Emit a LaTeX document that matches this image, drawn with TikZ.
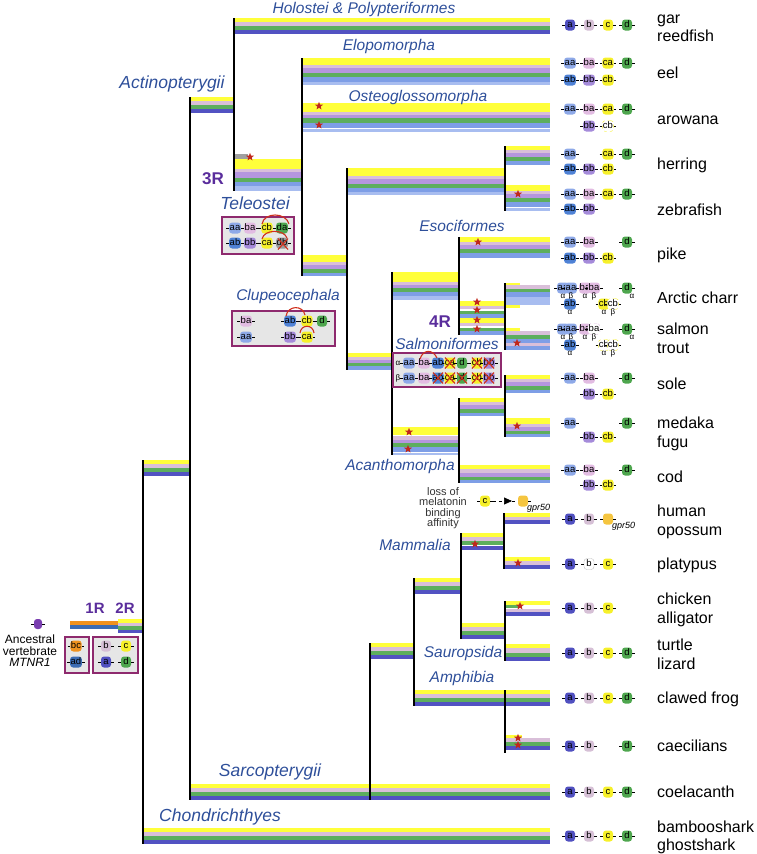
\documentclass[tikz,border=0pt]{standalone}
\usepackage{fontspec}
\setmainfont{Liberation Sans}
\usetikzlibrary{shapes.geometric,arrows.meta}
\definecolor{cY}{HTML}{FFFF3A}
\definecolor{cP}{HTML}{D9BFD9}
\definecolor{cL}{HTML}{B596DE}
\definecolor{cG}{HTML}{5DAE5D}
\definecolor{cB}{HTML}{7E9EE6}
\definecolor{cBB}{HTML}{A8BDF0}
\definecolor{cD}{HTML}{5252C2}
\definecolor{cO}{HTML}{F0921E}
\definecolor{cS}{HTML}{3B6CB4}
\definecolor{cGr}{HTML}{A0A0A0}
\definecolor{cStar}{HTML}{C0281C}
\definecolor{cLab}{HTML}{2E4F9A}
\definecolor{cRR}{HTML}{5A2D9C}
\definecolor{cBox}{HTML}{8E2A6E}
\definecolor{cBoxF}{HTML}{E6E6E6}
\definecolor{ga}{HTML}{5050C0}
\definecolor{gb}{HTML}{D6C0D6}
\definecolor{gc}{HTML}{F6F02A}
\definecolor{gd}{HTML}{4EA64E}
\definecolor{gaa}{HTML}{8EA9E8}
\definecolor{gab}{HTML}{4F82D6}
\definecolor{gba}{HTML}{E2BCE2}
\definecolor{gbb}{HTML}{A58BDA}
\definecolor{gdb}{HTML}{9A9A9A}
\definecolor{gpr}{HTML}{F5C540}
\definecolor{anc}{HTML}{7A3FB0}
\definecolor{redx}{HTML}{D0301C}
\newcounter{gc}
\newcounter{sc}
\newcounter{kc}
\newcommand\sbar[4]{%
  \xdef\sbY{#3}%
  \foreach \c/\h in {#4}{%
    \fill[\c] (#1,\sbY) rectangle (#2,\sbY+\h);
    \pgfmathparse{\sbY+\h}\xdef\sbY{\pgfmathresult}%
  }%
}
\newcommand\gn[5][]{%
  \stepcounter{gc}\edef\gname{g\thegc}%
  \node[gene,fill=#5,#1] (\gname) at (#2,#3) {#4};
  \draw[gline] ([xshift=-2.6pt]\gname.west) -- (\gname.west) (\gname.east) -- ([xshift=2.6pt]\gname.east);
}
\newcommand\st[2]{\stepcounter{sc}\node[stp] (st\thesc) at (#1,#2) {};}
\newcommand\gk[3]{\stepcounter{kc}\node[gkl] (k\thekc) at (#1,#2) {#3};}
\newcommand\rx[2]{\draw[redl] (#1-5,#2-5.5) -- (#1+5,#2+5.5) (#1-5,#2+5.5) -- (#1+5,#2-5.5);}
\begin{document}
\begin{tikzpicture}[x=1pt,y=-1pt,
  vl/.style={line width=1.3pt,black},
  gene/.style={rounded corners=3pt,minimum width=10pt,minimum height=11pt,inner sep=0.6pt,
     font=\fontsize{9.5}{9.5}\selectfont,text height=6.8pt,text depth=1.8pt},
  gline/.style={line width=0.7pt,black},
  stp/.style={star,star points=5,star point ratio=2.4,fill=cStar,draw=none,minimum size=8.5pt,inner sep=0pt},
  gkl/.style={font=\fontsize{8}{8}\selectfont,inner sep=0pt},
  redl/.style={line width=1.1pt,redx},
  sp/.style={anchor=base west,font=\fontsize{16}{18}\selectfont,inner sep=0pt},
  clade/.style={anchor=base,font=\fontsize{15.5}{18}\selectfont\itshape,text=cLab,inner sep=0pt},
  bigclade/.style={anchor=base,font=\fontsize{17.5}{20}\selectfont\itshape,text=cLab,inner sep=0pt},
  rlab/.style={anchor=base,font=\fontsize{17}{20}\selectfont\bfseries,text=cRR,inner sep=0pt},
  gbox/.style={draw=cBox,line width=1.2pt,fill=cBoxF,inner sep=0pt}]
\useasboundingbox (0,0) rectangle (756,854);
% ---------------- bars ----------------
\sbar{70}{118}{621}{cO/4,cS/4}
\sbar{118}{143}{619}{cY/3.5,cP/3.5,cG/3.5,cD/3.5}
\sbar{143}{190}{460}{cY/4,cP/4,cG/4,cD/4}
\sbar{143}{550}{828}{cY/4,cP/4,cG/4,cD/4}
\sbar{189}{234}{97}{cY/4,cP/4,cG/4,cD/4}
\sbar{234}{550}{18}{cY/4,cP/4,cG/4,cD/4}
\sbar{302}{550}{58}{cY/7,cP/3,cL/5,cG/4,cB/5,cBB/3}
\sbar{302}{550}{103}{cY/9,cP/3,cL/3,cG/5,cB/5,white/1,cBB/3}
\fill[cGr] (235,154) rectangle (248,159);
\sbar{235}{302}{159}{cY/10,cP/3,cL/6,cG/4,cB/4,cBB/5}
\sbar{302}{347}{255}{cY/7,cP/3,cL/4,cG/4,cB/3}
\sbar{347}{505}{168}{cY/8,cP/3,cL/5,cG/4,cB/4,cBB/3}
\sbar{505}{550}{146}{cY/4,cP/3,cL/4,cG/4,cB/4}
\sbar{505}{550}{185}{cY/6,cP/3,cL/4,cG/4,cB/5,white/1,cBB/3}
\sbar{347}{392}{353}{cY/4,cP/3,cL/3,cG/3,cB/4}
\sbar{392}{459}{272}{cY/10,cP/3,cL/3,cG/4,cB/4,cBB/4}
\sbar{459}{550}{237}{cY/5,cP/3,cL/4,cG/4,cB/5}
\sbar{459}{505}{301}{cY/5,cP/3,white/2,cG/3,cB/4,cY/5,cP/3,white/2,cG/3,cB/4}
\fill[cY] (505,283) rectangle (520,285);
\sbar{505}{550}{285}{cP/4,cG/3,cB/5,cBB/8}
\fill[cY] (505,305) rectangle (520,308);
\fill[cY] (505,328) rectangle (520,331);
\sbar{505}{550}{331}{cP/4,cG/4,cB/4,cP/3,cB/4}
\sbar{459}{505}{398}{cY/4,cP/3,cL/4,cG/4,cB/3}
\sbar{505}{550}{375}{cY/4,cP/3,cL/4,cG/4,cB/3}
\sbar{505}{550}{418}{cY/6,cP/3,cL/4,cG/3,cB/3}
\sbar{392}{459}{427}{cY/8,white/1,cP/4,cL/3,cG/4,cB/5,white/1,cBB/2}
\sbar{459}{550}{465}{cY/4,cP/4,cL/4,cG/3,cB/3}
\sbar{504}{550}{513}{cY/4,cP/3,cD/4}
\sbar{461}{504}{533}{cY/4,cP/4,cG/4,white/1,cD/4}
\sbar{504}{550}{557}{cY/4,cP/4,cD/4}
\sbar{414}{461}{578}{cY/4,cP/4,cG/4,cD/4}
\fill[cY] (505,601) rectangle (550,605);
\fill[cG] (505,605) rectangle (522,608);
\sbar{505}{550}{609}{cP/3,cD/4}
\sbar{461}{505}{623}{cY/4,cP/4,cG/4,cD/4}
\sbar{505}{550}{644}{cY/4,cP/5,cG/4,cD/4}
\sbar{370}{414}{643}{cY/4,cP/4,cG/4,cD/4}
\sbar{414}{505}{690}{cY/4,cP/4,cG/4,cD/4}
\sbar{505}{550}{690}{cY/4,cP/4,cG/4,cD/4}
\fill[cY] (505,735) rectangle (522,738);
\sbar{505}{550}{738}{cP/4,cG/4,cD/4}
\sbar{190}{370}{784}{cY/4,cP/4,cG/4,cD/4}
\sbar{370}{550}{784}{cY/4,cP/4,cG/4,cD/4}
% ---------------- vertical lines ----------------
\draw[vl] (143,460) -- (143,844);
\draw[vl] (190,97) -- (190,800);
\draw[vl] (234,18) -- (234,191);
\draw[vl] (302,58) -- (302,276);
\draw[vl] (347,168) -- (347,370);
\draw[vl] (505,146) -- (505,211);
\draw[vl] (392,272) -- (392,455);
\draw[vl] (459,237) -- (459,335);
\draw[vl] (505,283) -- (505,350);
\draw[vl] (459,398) -- (459,483);
\draw[vl] (505,375) -- (505,437);
\draw[vl] (504,513) -- (504,569);
\draw[vl] (461,533) -- (461,639);
\draw[vl] (414,578) -- (414,706);
\draw[vl] (370,643) -- (370,800);
\draw[vl] (505,601) -- (505,661);
\draw[vl] (505,690) -- (505,753);
% ---------------- stars ----------------
\st{250}{157}\st{319}{106}\st{319}{125}\st{518}{194}\st{478}{242}
\st{477}{302}\st{477}{310}\st{477}{320}\st{477}{329}\st{517}{343}
\st{409}{432}\st{408}{449}\st{517}{426}\st{475}{544}\st{518}{563}
\st{520}{606}\st{518}{738}\st{518}{745}
% ---------------- clade labels ----------------
\node[clade] (lhol) at (364,13.5) {Holostei \& Polypteriformes};
\node[clade] (lelo) at (389,50.5) {Elopomorpha};
\node[clade] (lost) at (418,101.5) {Osteoglossomorpha};
\node[bigclade] (lact) at (172,88) {Actinopterygii};
\node[bigclade] (ltel) at (255,209) {Teleostei};
\node[rlab] (l3r) at (213,184) {3R};
\node[clade] (lclu) at (288,300.5) {Clupeocephala};
\node[clade] (leso) at (462,231.5) {Esociformes};
\node[rlab] (l4r) at (440,327) {4R};
\node[clade] (lsal) at (447,349.5) {Salmoniformes};
\node[clade] (laca) at (400,470.5) {Acanthomorpha};
\node[clade] (lmam) at (415,550.5) {Mammalia};
\node[clade] (lsau) at (463,657.5) {Sauropsida};
\node[clade] (lamp) at (462,682.5) {Amphibia};
\node[bigclade] (lsar) at (270,776) {Sarcopterygii};
\node[bigclade] (lcho) at (220,821) {Chondrichthyes};
\node[rlab,font=\fontsize{15}{18}\selectfont\bfseries] (l1r) at (95,613) {1R};
\node[rlab,font=\fontsize{15}{18}\selectfont\bfseries] (l2r) at (125,613) {2R};
% ---------------- ancestor ----------------
\gn[minimum width=8pt,minimum height=10pt]{38}{624}{}{anc}
\node[font=\fontsize{12}{11.5}\selectfont,align=center,inner sep=0pt] (lanc) at (30,651) {Ancestral\\vertebrate\\\textit{MTNR1}};
\node[gbox,minimum width=24pt,minimum height=36pt] (b1r) at (77,655) {};
\node[gbox,minimum width=45pt,minimum height=36pt] (b2r) at (115.5,655) {};
\gn{76}{646}{bc}{cO}
\gn{76}{662}{ad}{cS}
\gn{106}{646}{b}{gb}\gn{126}{646}{c}{gc}
\gn{106}{662}{a}{ga}\gn{126}{662}{d}{gd}
% ---------------- Teleostei box ----------------
\node[gbox,minimum width=72pt,minimum height=37pt] (btel) at (258,235.5) {};
\gn{235}{228}{aa}{gaa}\gn{250}{228}{ba}{gba}\gn{267}{228}{cb}{gc}\gn{282}{228}{da}{gd}
\gn{235}{243}{ab}{gab}\gn{250}{243}{bb}{gbb}\gn{267}{243}{ca}{gc}\gn{282}{243}{db}{gdb}
\draw[redl] (262,224) .. controls (264,212) and (286,212) .. (289,224);
\draw[redl] (262,239) .. controls (264,229) and (284,229) .. (287,238);
\rx{283}{244}
% ---------------- Clupeocephala box ----------------
\node[gbox,minimum width=103pt,minimum height=35pt] (bclu) at (283.5,328.5) {};
\gn{246}{321}{ba}{gba}\gn{290}{321}{ab}{gab}\gn{307}{321}{cb}{gc}\gn{322}{321}{d}{gd}
\gn{246}{337}{aa}{gaa}\gn{290}{337}{bb}{gbb}\gn{307}{337}{ca}{gc}
\draw[redl] (286,316) .. controls (288,305) and (303,305) .. (305,315);
\draw[redl] (300,333) .. controls (301,324) and (313,324) .. (314,333);
% ---------------- Salmoniformes box ----------------
\node[gbox,minimum width=108pt,minimum height=34pt] (bsal) at (447,370) {};
\gk{398}{363}{α}\gk{398}{378}{β}
\gn{409}{363}{aa}{gaa}\gn{424}{363}{ba}{gba}\gn{438}{363}{ab}{gab}\gn{450}{363}{ca}{gc}
\gn{462}{363}{d}{gd}\gn{477}{363}{cb}{gc}\gn{489}{363}{bb}{gbb}
\gn{409}{378}{aa}{gaa}\gn{424}{378}{ba}{gba}\gn{438}{378}{ab}{gab}\gn{450}{378}{ca}{gc}
\gn{462}{378}{d}{gd}\gn{477}{378}{cb}{gc}\gn{489}{378}{bb}{gbb}
\draw[redl] (420,359) .. controls (423,349) and (433,349) .. (437,358);
\rx{450}{363}\rx{477}{363}\rx{489}{363}
\rx{438}{378}\rx{450}{378}\rx{462}{378}\rx{477}{378}\rx{489}{378}
% ---------------- gene rows ----------------
\gn{570}{25}{a}{ga}\gn{589}{25}{b}{gb}\gn{608}{25}{c}{gc}\gn{627}{25}{d}{gd}
\gn{570}{63}{aa}{gaa}\gn{589}{63}{ba}{gba}\gn{608}{63}{ca}{gc}\gn{627}{63}{d}{gd}
\gn{570}{80}{ab}{gab}\gn{589}{80}{bb}{gbb}\gn{608}{80}{cb}{gc}
\gn{570}{109}{aa}{gaa}\gn{589}{109}{ba}{gba}\gn{608}{109}{ca}{gc}\gn{627}{109}{d}{gd}
\gn{589}{126}{bb}{gbb}\gn[fill=white,draw=gc,dashed]{608}{126}{cb}{gc}
\gn{570}{154}{aa}{gaa}\gn{608}{154}{ca}{gc}\gn{627}{154}{d}{gd}
\gn{570}{169}{ab}{gab}\gn{589}{169}{bb}{gbb}\gn{608}{169}{cb}{gc}
\gn{570}{194}{aa}{gaa}\gn{589}{194}{ba}{gba}\gn{608}{194}{ca}{gc}\gn{627}{194}{d}{gd}
\gn{570}{209}{ab}{gab}\gn{589}{209}{bb}{gbb}
\gn{570}{242}{aa}{gaa}\gn{589}{242}{ba}{gba}\gn{627}{242}{d}{gd}
\gn{570}{258}{ab}{gab}\gn{589}{258}{bb}{gbb}\gn{608}{258}{cb}{gc}
% Arctic charr
\gn{563}{288}{aa}{gaa}\gn{571}{288}{aa}{gaa}\gn{585}{288}{ba}{gba}\gn{594}{288}{ba}{gba}\gn{627}{288}{d}{gd}
\gk{563}{296}{α}\gk{571}{296}{β}\gk{585}{296}{α}\gk{594}{296}{β}\gk{632}{296}{α}
\gn{570}{304}{ab}{gab}\gn{604}{304}{cb}{gc}\gn[fill=white,draw=gc,dashed]{613}{304}{cb}{gc}
\gk{570}{312}{α}\gk{604}{312}{α}\gk{613}{312}{β}
% salmon
\gn{563}{329}{aa}{gaa}\gn{571}{329}{aa}{gaa}\gn{585}{329}{ba}{gba}\gn[fill=white,draw=gba,dashed]{594}{329}{ba}{gba}\gn{627}{329}{d}{gd}
\gk{563}{337}{α}\gk{571}{337}{β}\gk{585}{337}{α}\gk{594}{337}{β}\gk{632}{337}{α}
\gn{570}{345}{ab}{gab}\gn[fill=white,draw=gc,dashed]{604}{345}{cb}{gc}\gn[fill=white,draw=gc,dashed]{613}{345}{cb}{gc}
\gk{570}{353}{α}\gk{604}{353}{α}\gk{613}{353}{β}
% sole, medaka, cod
\gn{570}{378}{aa}{gaa}\gn{589}{378}{ba}{gba}\gn{627}{378}{d}{gd}
\gn{589}{394}{bb}{gbb}\gn{608}{394}{cb}{gc}
\gn{570}{423}{aa}{gaa}\gn{627}{423}{d}{gd}
\gn{589}{437}{bb}{gbb}\gn{608}{437}{cb}{gc}
\gn{570}{470}{aa}{gaa}\gn{589}{470}{ba}{gba}\gn{627}{470}{d}{gd}
\gn{589}{485}{bb}{gbb}\gn{608}{485}{cb}{gc}
% loss of melatonin binding
\node[font=\fontsize{11}{10.5}\selectfont,align=center,inner sep=0pt,text=black!80] (lloss) at (443,508) {loss of\\melatonin\\binding\\affinity};
\gn{485}{501}{c}{gc}
\coordinate (arrtip) at (512,501);
\node[gene,fill=gpr] (gprA) at (523,501) {};
\draw[gline,dashed,-{Triangle[length=8pt,width=7pt]}] ([xshift=2.6pt]g\thegc.east) -- (arrtip);
\draw[gline,dashed] (arrtip) -- (gprA.west) (gprA.east) -- ([xshift=2.6pt]gprA.east);
\node[anchor=west,font=\fontsize{9}{9}\selectfont\itshape,inner sep=0pt] (lgprA) at (527,508) {gpr50};
% tetrapods
\gn{570}{519}{a}{ga}\gn{589}{519}{b}{gb}\gn{608}{519}{}{gpr}
\node[anchor=west,font=\fontsize{9}{9}\selectfont\itshape,inner sep=0pt] (lgprB) at (612,526) {gpr50};
\gn{570}{564}{a}{ga}\gn[fill=white,draw=black!25]{589}{564}{b}{white}\gn{608}{564}{c}{gc}
\gn{570}{608}{a}{ga}\gn{589}{608}{b}{gb}\gn{608}{608}{c}{gc}
\gn{570}{653}{a}{ga}\gn{589}{653}{b}{gb}\gn{608}{653}{c}{gc}\gn{627}{653}{d}{gd}
\gn{570}{698}{a}{ga}\gn{589}{698}{b}{gb}\gn{608}{698}{c}{gc}\gn{627}{698}{d}{gd}
\gn{570}{746}{a}{ga}\gn{589}{746}{b}{gb}\gn{627}{746}{d}{gd}
\gn{570}{792}{a}{ga}\gn{589}{792}{b}{gb}\gn{608}{792}{c}{gc}\gn{627}{792}{d}{gd}
\gn{570}{836}{a}{ga}\gn{589}{836}{b}{gb}\gn{608}{836}{c}{gc}\gn{627}{836}{d}{gd}
% ---------------- species labels ----------------
\node[sp] (n1) at (657,23.5) {gar};
\node[sp] (n2) at (657,41.5) {reedfish};
\node[sp] (n3) at (657,78.5) {eel};
\node[sp] (n4) at (657,124.5) {arowana};
\node[sp] (n5) at (657,169.5) {herring};
\node[sp] (n6) at (657,215.5) {zebrafish};
\node[sp] (n7) at (657,259.5) {pike};
\node[sp] (n8) at (657,303.5) {Arctic charr};
\node[sp] (n9) at (657,334.5) {salmon};
\node[sp] (n10) at (657,353.5) {trout};
\node[sp] (n11) at (657,389.5) {sole};
\node[sp] (n12) at (657,428.5) {medaka};
\node[sp] (n13) at (657,447.5) {fugu};
\node[sp] (n14) at (657,482.5) {cod};
\node[sp] (n15) at (657,516.5) {human};
\node[sp] (n16) at (657,535.5) {opossum};
\node[sp] (n17) at (657,569.5) {platypus};
\node[sp] (n18) at (657,604.5) {chicken};
\node[sp] (n19) at (657,623.5) {alligator};
\node[sp] (n20) at (657,650.5) {turtle};
\node[sp] (n21) at (657,669.5) {lizard};
\node[sp] (n22) at (657,703.5) {clawed frog};
\node[sp] (n23) at (657,751.5) {caecilians};
\node[sp] (n24) at (657,797.5) {coelacanth};
\node[sp] (n25) at (657,832) {bambooshark};
\node[sp] (n26) at (657,850) {ghostshark};
\end{tikzpicture}
\end{document}
